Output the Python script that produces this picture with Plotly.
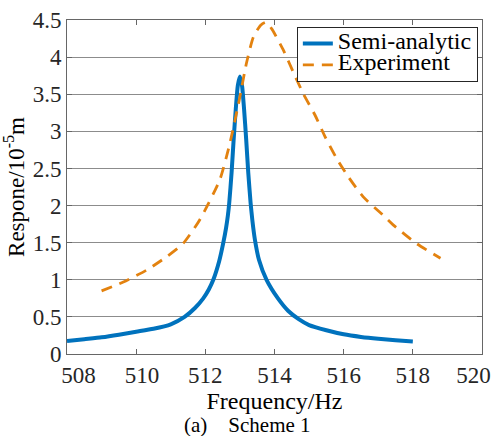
import plotly.graph_objects as go

# Semi-analytic curve
semi_f = [508.0, 508.5, 509.0, 509.5, 510.0, 510.5, 511.0, 511.4, 511.7, 511.94,
          512.1, 512.23, 512.4, 512.52, 512.6, 512.65, 512.69, 512.76, 512.82, 512.88,
          512.94, 513.0, 513.06, 513.12, 513.18, 513.24, 513.31, 513.36, 513.43, 513.55,
          513.77, 514.1, 514.4, 514.7, 515.0, 515.5, 516.0, 516.5, 517.0, 517.5, 518.0]
semi_y = [0.175, 0.20, 0.225, 0.26, 0.30, 0.34, 0.40, 0.50, 0.62, 0.75,
          0.87, 1.0, 1.25, 1.5, 1.70, 1.86, 2.03, 2.45, 2.9, 3.3,
          3.62, 3.74, 3.62, 3.3, 2.9, 2.45, 2.03, 1.80, 1.55, 1.27,
          1.0, 0.75, 0.58, 0.47, 0.39, 0.32, 0.265, 0.23, 0.205, 0.185, 0.17]

# Experiment curve
exp_f = [509.0, 509.63, 510.3, 510.88, 511.36, 511.84, 512.42, 512.71, 512.98, 513.19,
         513.39, 513.6, 513.75, 513.92, 514.25, 514.54, 514.83, 515.17, 515.46, 515.79,
         516.13, 516.56, 517.14, 517.43, 518.1, 518.8]
exp_y = [0.85, 0.97, 1.13, 1.31, 1.49, 1.81, 2.35, 2.84, 3.42, 3.92,
         4.27, 4.43, 4.47, 4.38, 4.10, 3.80, 3.51, 3.22, 2.93, 2.64,
         2.39, 2.12, 1.87, 1.74, 1.49, 1.29]

x_ticks = [508, 510, 512, 514, 516, 518, 520]
x_tick_text = ["\u00a0\u00a0\u00a0\u00a0508", "\u00a0\u00a0510", "512", "514", "516", "518",
               "520\u00a0\u00a0\u00a0"]
y_ticks = [0, 0.5, 1, 1.5, 2, 2.5, 3, 3.5, 4, 4.5]
y_tick_text = ["0", "0.5", "1", "1.5", "2", "2.5", "3", "3.5", "4", "4.5"]

series_names = ["Semi-analytic", "Experiment"]

FONT = "Liberation Serif, Times New Roman, Times, serif"
TICKCOL = "#262626"


def big(name):
    return '<span style="font-size:24px">' + name + '</span>'


fig = go.Figure()
fig.add_trace(go.Scatter(x=semi_f, y=semi_y, mode="lines", name=big(series_names[0]),
                         line=dict(color="#0072BD", width=4, shape="spline", smoothing=0.6)))
fig.add_trace(go.Scatter(x=exp_f, y=exp_y, mode="lines", name=big(series_names[1]),
                         line=dict(color="#E3820F", width=2.8, dash="11px,8px",
                                   shape="spline", smoothing=0.6)))

fig.update_layout(
    width=493, height=436,
    margin=dict(l=67, r=11, t=20, b=82, autoexpand=False),
    plot_bgcolor="white", paper_bgcolor="white",
    font=dict(family=FONT, size=22, color=TICKCOL),
    showlegend=True,
    legend=dict(x=0.99, y=0.979, xanchor="right", yanchor="top",
                bgcolor="white", bordercolor="#262626", borderwidth=1,
                font=dict(family=FONT, size=14, color="black"),
                tracegroupgap=0, itemwidth=30),
)
fig.update_xaxes(range=[508, 520], tickvals=x_ticks, ticktext=x_tick_text,
                 ticklabeloverflow="allow", automargin=False,
                 showgrid=False, zeroline=False, showline=True, linecolor="#666666",
                 linewidth=1, mirror="ticks", ticks="inside", ticklen=5, tickcolor="#666666",
                 tickfont=dict(family=FONT, size=23, color=TICKCOL),
                 title=dict(text="Frequency/Hz",
                            font=dict(family=FONT, size=24, color="black"), standoff=1))
fig.update_yaxes(range=[0, 4.5], tickvals=y_ticks, ticktext=y_tick_text, automargin=False,
                 showgrid=True, gridcolor="#8c8c8c", gridwidth=1, zeroline=False,
                 showline=True, linecolor="#666666", linewidth=1, mirror="ticks",
                 ticks="inside", ticklen=5, tickcolor="#666666",
                 tickfont=dict(family=FONT, size=23, color=TICKCOL),
                 title=dict(text="Respone/10<sup>-5</sup>m",
                            font=dict(family=FONT, size=23, color="black"), standoff=2))

fig.add_annotation(text="(a)\u00a0\u00a0\u00a0\u00a0Scheme 1", xref="paper", yref="paper",
                   x=0.435, y=-0.214, xanchor="center", yanchor="middle", showarrow=False,
                   font=dict(family=FONT, size=21, color="black"))

# remove the page's default body margin so the 493x436 figure fills the window exactly
fig.write_html("out.html", config={"displayModeBar": False},
               post_script="document.body.style.margin='0';"
                           "document.documentElement.style.overflow='hidden';")
